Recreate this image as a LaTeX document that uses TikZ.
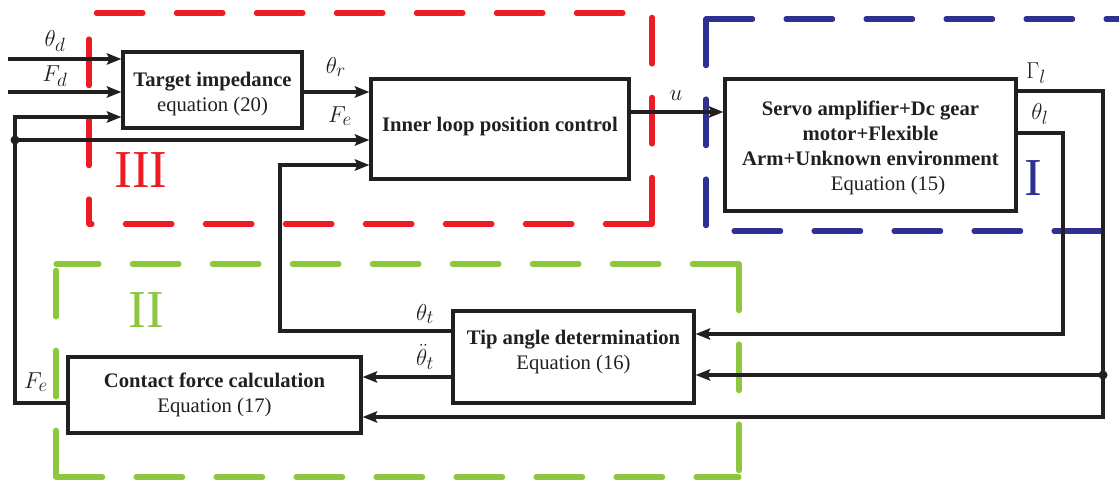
\documentclass[tikz,border=0pt]{standalone}
\usepackage{fontspec}
\setmainfont{Liberation Serif}
\usetikzlibrary{arrows.meta,fit}
\definecolor{rd}{RGB}{237,28,36}
\definecolor{bl}{RGB}{46,49,146}
\definecolor{gr}{RGB}{141,198,63}
\definecolor{ink}{RGB}{35,31,32}
\tikzset{
  box/.style={draw=ink,line width=2.3pt,inner sep=0pt},
  txt/.style={align=center,text=ink,inner sep=0pt,
    font=\fontsize{15.5}{18.8}\selectfont},
  conn/.style={draw=ink,line width=2.3pt,line join=miter,
    -{Stealth[length=11pt,width=8.5pt,inset=2pt]}},
  grp/.style={line width=3.8pt,line cap=round,dash pattern=on 35pt off 25pt},
  lab/.style={text=ink,font=\fontsize{19}{22}\selectfont,inner sep=0pt},
  roman/.style={font=\fontsize{40}{44}\selectfont,inner sep=0pt}}
\begin{document}
\begin{tikzpicture}[x=0.75pt,y=-0.75pt]
\useasboundingbox (0,0) rectangle (1119,484);

% group frames
\draw[grp,rd] (652,224) -- (652,13) -- (89,13) -- (89,224);
\draw[grp,rd] (652,224) -- (89,224);
\draw[grp,bl] (706,19) -- (1140,19);
\draw[grp,bl] (706,19) -- (706,231) -- (1140,231);
\draw[grp,gr] (739,264) -- (56,264);
\draw[grp,gr] (739,264) -- (739,477);
\draw[grp,gr] (56,477) -- (56,264);
\draw[grp,gr] (56,477) -- (739,477);

\node[roman,text=rd] (r3) at (141,170) {III};
\node[roman,text=gr] (r2) at (146,310) {II};
\node[roman,text=bl] (r1) at (1033,178) {I};

% blocks
\node[box,fit={(123,52)(302,128)}] (ti) {};
\node[box,fit={(371,79)(629,179)}] (il) {};
\node[box,fit={(725,79)(1016,211)}] (sv) {};
\node[box,fit={(453,311)(694,403)}] (tp) {};
\node[box,fit={(68,357)(361,433)}] (cf) {};

\node[txt] (ti-t) at ([yshift=-3pt]ti.center) {\textbf{Target impedance}\\equation (20)};
\node[txt] (il-t) at ([yshift=1.5pt]il.center) {\textbf{Inner loop position control}};
\node[txt] (sv-t) at ([yshift=-2pt]sv.center) {\textbf{Servo amplifier+Dc gear}\\\textbf{motor+Flexible}\\\textbf{Arm+Unknown environment}\\\hspace*{1.7em}Equation (15)};
\node[txt] (tp-t) at ([yshift=4pt]tp.center) {\textbf{Tip angle determination}\\Equation (16)};
\node[txt] (cf-t) at (cf.center) {\textbf{Contact force calculation}\\Equation (17)};

% coordinates
\coordinate (thd) at (8,59);
\coordinate (fd) at (8,92);
\coordinate (c1) at (15,117);
\coordinate (c2) at (15,403);
\coordinate (j1) at (15,140);
\coordinate (k1) at (280,165);
\coordinate (k2) at (280,331);
\coordinate (g1) at (1103,91);
\coordinate (g2) at (1103,417);
\coordinate (h1) at (1063,133);
\coordinate (h2) at (1063,334);
\coordinate (j2) at (1103,375);
\coordinate (yr) at (0,92);
\coordinate (yu) at (0,112);
\coordinate (ytt) at (0,377);

% connectors
\draw[conn,line width=2.3pt] (thd) -- (thd -| ti.west);
\draw[conn,line width=2.3pt] (fd) -- (fd -| ti.west);
\draw[conn,line width=2.3pt] (cf.west |- c2) -- (c2) -- (c1) -- (c1 -| ti.west);
\draw[conn,line width=2.3pt] (j1) -- (j1 -| il.west);
\fill[ink] (j1) circle (4.5);
\draw[conn,line width=2.3pt] (ti.east |- yr) -- (il.west |- yr);
\draw[conn,line width=2.3pt] (tp.west |- k2) -- (k2) -- (k1) -- (k1 -| il.west);
\draw[conn,line width=2.3pt] (il.east |- yu) -- (sv.west |- yu);
\draw[conn,line width=2.3pt] (sv.east |- g1) -- (g1) -- (g2) -- (cf.east |- g2);
\draw[conn,line width=2.3pt] (sv.east |- h1) -- (h1) -- (h2) -- (tp.east |- h2);
\draw[conn,line width=2.3pt] (j2) -- (tp.east |- j2);
\fill[ink] (j2) circle (4.5);
\draw[conn,line width=2.3pt] (tp.west |- ytt) -- (cf.east |- ytt);

% labels
\node[lab] (l1) at (55,41) {$\theta_d$};
\node[lab] (l2) at (55,76) {$F_d$};
\node[lab] (l3) at (336,67) {$\theta_r$};
\node[lab] (l4) at (340,116) {$F_e$};
\node[lab] (l5) at (676,96) {$u$};
\node[lab] (l6) at (1036,73) {$\Gamma_l$};
\node[lab] (l7) at (1040,114) {$\theta_l$};
\node[lab] (l8) at (425,314) {$\theta_t$};
\node[lab] (l9) at (425,357) {$\ddot{\theta}_t$};
\node[lab] (l10) at (36,382) {$F_e$};
\end{tikzpicture}
\end{document}
